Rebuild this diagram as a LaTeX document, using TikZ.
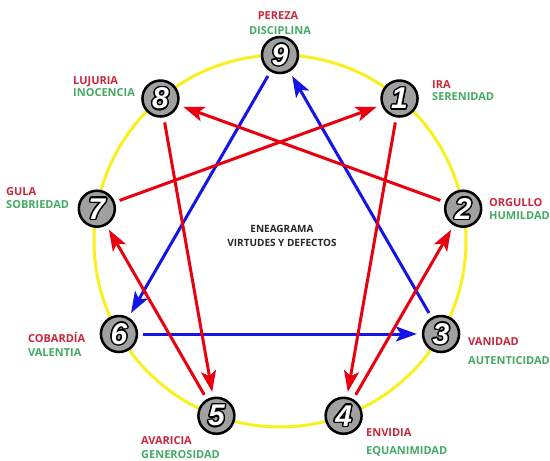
\documentclass[tikz,border=0pt]{standalone}
\usepackage{fontspec}
\setmainfont{Open Sans}
\newfontfamily\numfont{Liberation Sans}
\usetikzlibrary{arrows.meta,calc}
\definecolor{vice}{HTML}{C8283C}
\definecolor{virtue}{HTML}{46AA64}
\definecolor{ringyellow}{HTML}{FAF01E}
\definecolor{arrred}{HTML}{E80010}
\definecolor{arrblue}{HTML}{1414E6}
\definecolor{nodegray}{HTML}{A0A0A0}
\newcommand\olcopy[3]{\rlap{\kern#1\raisebox{#2}{\color{black}#3}}}
\newcommand\outl[1]{%
  \olcopy{1.4pt}{0pt}{#1}\olcopy{-1.4pt}{0pt}{#1}%
  \olcopy{0pt}{1.4pt}{#1}\olcopy{0pt}{-1.4pt}{#1}%
  \olcopy{1pt}{1pt}{#1}\olcopy{-1pt}{1pt}{#1}%
  \olcopy{1pt}{-1pt}{#1}\olcopy{-1pt}{-1pt}{#1}%
  \olcopy{1.3pt}{.55pt}{#1}\olcopy{-1.3pt}{.55pt}{#1}%
  \olcopy{1.3pt}{-.55pt}{#1}\olcopy{-1.3pt}{-.55pt}{#1}%
  \olcopy{.55pt}{1.3pt}{#1}\olcopy{-.55pt}{1.3pt}{#1}%
  \olcopy{.55pt}{-1.3pt}{#1}\olcopy{-.55pt}{-1.3pt}{#1}%
  {\color{white}#1}}
\tikzset{
  x=1pt, y=-1pt,
  numcirc/.style={circle, fill=nodegray, draw=black, line width=2.5pt,
    minimum size=36pt, inner sep=0pt,
    font=\numfont\bfseries\itshape\fontsize{30}{30}\selectfont},
  lab/.style={inner sep=0pt, text height=8pt, text depth=0pt,
    font=\bfseries\fontsize{11}{13}\selectfont},
  vicelab/.style={lab, text=vice},
  virtlab/.style={lab, text=virtue},
  ctrlab/.style={inner sep=0pt, text height=8pt, text depth=0pt,
    font=\bfseries\fontsize{10}{12}\selectfont, text=black!85},
  arr/.style={line width=3pt, shorten >=5pt, shorten <=5pt,
    -{Stealth[length=21pt, width=15pt, inset=5pt]}},
  redarr/.style={arr, draw=arrred, fill=arrred},
  bluearr/.style={arr, draw=arrblue, fill=arrblue},
}
\begin{document}
\begin{tikzpicture}
\useasboundingbox (0,0) rectangle (550,461);
\fill[white] (0,0) rectangle (550,461);
\coordinate (c) at (280,241);
\draw[ringyellow, line width=3pt] (c) circle[radius=186];
% node positions
\foreach \k in {1,...,9} {
  \coordinate (p\k) at ($(c)+({-90+40*\k}:186)$);
}
% nodes
\node[numcirc] (n1) at (p1) {\outl{1}};
\node[numcirc] (n2) at (p2) {\outl{2}};
\node[numcirc] (n3) at (p3) {\outl{3}};
\node[numcirc] (n4) at (p4) {\outl{4}};
\node[numcirc] (n5) at (p5) {\outl{5}};
\node[numcirc] (n6) at (p6) {\outl{6}};
\node[numcirc] (n7) at (p7) {\outl{7}};
\node[numcirc] (n8) at (p8) {\outl{8}};
\node[numcirc] (n9) at (p9) {\outl{9}};
% arrows
\draw[bluearr] (n9) -- (n6);
\draw[bluearr] (n6) -- (n3);
\draw[bluearr] (n3) -- (n9);
\draw[redarr] (n1) -- (n4);
\draw[redarr] (n4) -- (n2);
\draw[redarr] (n2) -- (n8);
\draw[redarr] (n8) -- (n5);
\draw[redarr] (n5) -- (n7);
\draw[redarr] (n7) -- (n1);
% labels
\node[vicelab] (l9a) at (278,15) {PEREZA};
\node[virtlab] (l9b) at (280,30) {DISCIPLINA};
\node[vicelab, anchor=west] (l1a) at (432,84) {IRA};
\node[virtlab, anchor=west] (l1b) at (432,96.5) {SERENIDAD};
\node[vicelab, anchor=west] (l2a) at (489,202) {ORGULLO};
\node[virtlab, anchor=west] (l2b) at (489,215) {HUMILDAD};
\node[vicelab, anchor=west] (l3a) at (468,341.7) {VANIDAD};
\node[virtlab, anchor=west] (l3b) at (468,360.7) {AUTENTICIDAD};
\node[vicelab, anchor=west] (l4a) at (366,432.7) {ENVIDIA};
\node[virtlab, anchor=west] (l4b) at (366,450) {EQUANIMIDAD};
\node[vicelab, anchor=west] (l5a) at (141,440.7) {AVARICIA};
\node[virtlab, anchor=west] (l5b) at (141,454) {GENEROSIDAD};
\node[vicelab, anchor=west] (l6a) at (28,338) {COBARDÍA};
\node[virtlab, anchor=west] (l6b) at (28,352.7) {VALENTIA};
\node[vicelab, anchor=west] (l7a) at (6,191.7) {GULA};
\node[virtlab, anchor=west] (l7b) at (6,204.3) {SOBRIEDAD};
\node[vicelab, anchor=west] (l8a) at (73,80) {LUJURIA};
\node[virtlab, anchor=west] (l8b) at (73,92.3) {INOCENCIA};
\node[ctrlab] (t1) at (282,228.3) {ENEAGRAMA};
\node[ctrlab] (t2) at (282,242.7) {VIRTUDES Y DEFECTOS};
\end{tikzpicture}
\end{document}
